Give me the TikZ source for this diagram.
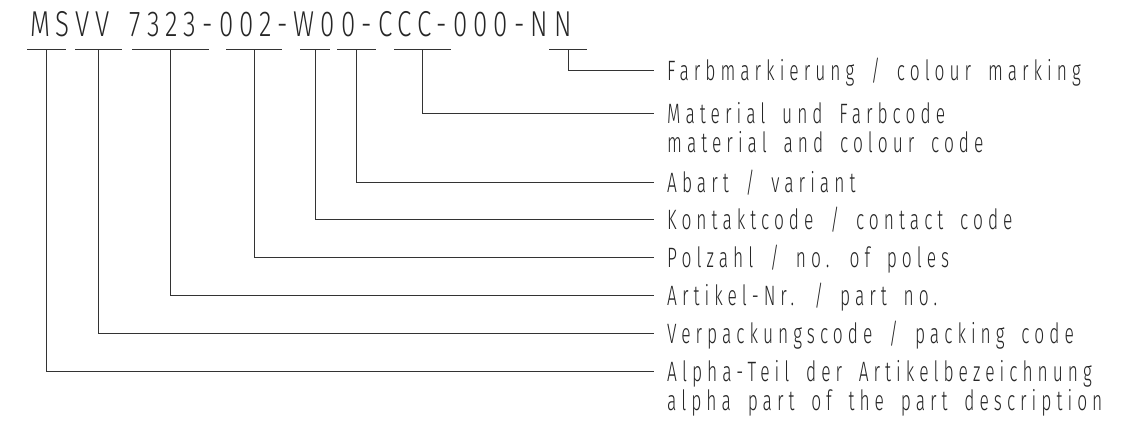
\documentclass[tikz,border=0pt]{standalone}
\usepackage{fontspec}
\setmainfont{Fira Sans}[UprightFont=* Light, FakeStretch=0.62, LetterSpace=18, WordSpace=1.7]
\newfontfamily\codefont{Fira Sans}[UprightFont=* Light, FakeStretch=0.72, LetterSpace=17, WordSpace=1.5]
\begin{document}
\begin{tikzpicture}[x=1pt,y=-1pt,
  leader/.style={line width=1pt, draw=black!80},
  lbl/.style={anchor=base west, inner sep=0pt, font=\fontsize{28}{30}\selectfont, text=black!85},
  code/.style={anchor=base west, inner sep=0pt, font=\codefont\fontsize{36}{40}\selectfont, text=black!85}]
\useasboundingbox (0,0) rectangle (1128,428);
\fill[white] (0,0) rectangle (1128,428);
% code text
\node[code] (code) at (30,36.5) {MSVV 7323-002-W00-CCC-000-NN};
% underline anchors
\coordinate (uMS) at (46.5,50);
\coordinate (uVV) at (98.5,50);
\coordinate (uAN) at (170.5,50);
\coordinate (uPZ) at (254,50);
\coordinate (uW) at (315,50);
\coordinate (uAB) at (356.5,50);
\coordinate (uCC) at (422.5,50);
\coordinate (uNN) at (568,50);
\draw[leader] (27,50) -- (66,50);
\draw[leader] (75,50) -- (122,50);
\draw[leader] (132,50) -- (209,50);
\draw[leader] (226,50) -- (282,50);
\draw[leader] (300,50) -- (330,50);
\draw[leader] (337,50) -- (376,50);
\draw[leader] (394,50) -- (451,50);
\draw[leader] (549,50) -- (587,50);
% labels
\node[lbl] (lNN) at (667,81) {Farbmarkierung / colour marking};
\node[lbl] (lCC) at (667,123) {Material und Farbcode};
\node[lbl] (lCC2) at (667,152) {material and colour code};
\node[lbl] (lAB) at (667,192) {Abart / variant};
\node[lbl] (lW) at (667,229) {Kontaktcode / contact code};
\node[lbl] (lPZ) at (667,267) {Polzahl / no. of poles};
\node[lbl] (lAN) at (667,305) {Artikel-Nr. / part no.};
\node[lbl] (lVV) at (667,343) {Verpackungscode / packing code};
\node[lbl] (lMS) at (667,381) {Alpha-Teil der Artikelbezeichnung};
\node[lbl] (lMS2) at (667,410) {alpha part of the part description};
% connectors
\foreach \u/\l in {uNN/lNN,uCC/lCC,uAB/lAB,uW/lW,uPZ/lPZ,uAN/lAN,uVV/lVV,uMS/lMS}
  \draw[leader] (\u) |- ([shift={(-13,-10)}]\l.base west);
\end{tikzpicture}
\end{document}
